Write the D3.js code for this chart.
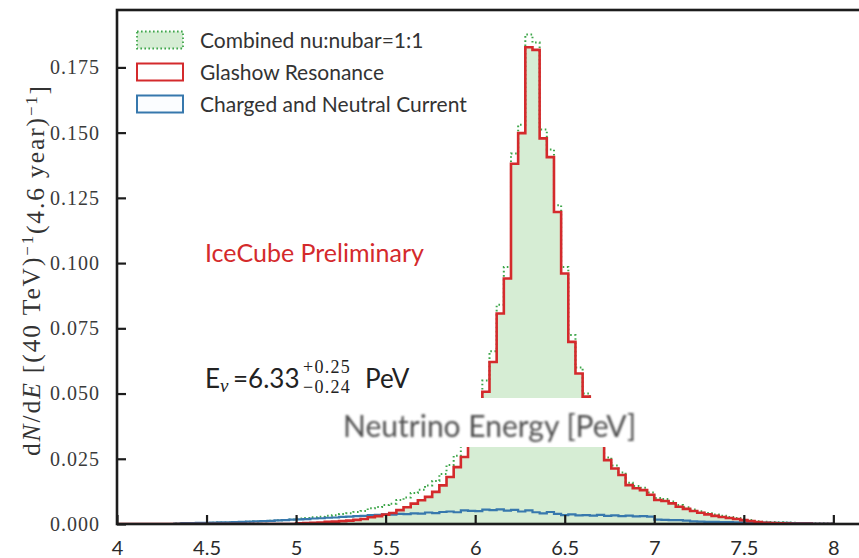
<!DOCTYPE html>
<html>
<head>
<meta charset="utf-8">
<script src="https://cdn.jsdelivr.net/npm/d3@7"></script>
<style>
  body { margin: 0; background: #fff; }
  svg { display: block; }
</style>
</head>
<body>
<svg id="chart" width="859" height="558"></svg>
<script>
// Histogram binning: 100 bins of 40 TeV from 4 PeV to 8 PeV
const binStart = 4.0;
const binWidth = 0.04;

// Glashow resonance events per bin
const glashow = [
  0, 0, 0, 0, 0, 0, 0, 0, 0, 0,
  0, 0, 0, 0, 0, 0, 0, 0, 0, 0,
  0, 0, 0, 0, 0, 0.0003, 0.0004, 0.0005, 0.0006, 0.0008,
  0.0009, 0.0011, 0.0013, 0.0016, 0.0019, 0.0026, 0.0030, 0.0036, 0.0042, 0.0053,
  0.0064, 0.0078, 0.0091, 0.0104, 0.0123, 0.0148, 0.0180, 0.0218, 0.0257, 0.0320,
  0.0410, 0.0507, 0.0621, 0.0807, 0.0941, 0.1381, 0.1498, 0.1827, 0.1817, 0.1478,
  0.1406, 0.1196, 0.0960, 0.0698, 0.0577, 0.0488, 0.0400, 0.0320, 0.0245, 0.0213,
  0.0188, 0.0149, 0.0137, 0.0130, 0.0112, 0.0092, 0.0088, 0.0079, 0.0066, 0.0058,
  0.0050, 0.0043, 0.0037, 0.0031, 0.0027, 0.0023, 0.0019, 0.0015, 0.0011, 0.0007,
  0.0005, 0.0004, 0.0003, 0.0002, 0.0001, 0.0001, 0.0001, 0, 0, 0
];

// Charged and neutral current events per bin
const chargedNeutral = [
  0, 0, 0, 0, 0, 0, 0, 0, 0.0002, 0.0003,
  0.0003, 0.0004, 0.0004, 0.0005, 0.0006, 0.0006, 0.0007, 0.0008, 0.0009, 0.0010,
  0.0011, 0.0012, 0.0014, 0.0015, 0.0017, 0.0018, 0.0019, 0.0021, 0.0022, 0.0024,
  0.0025, 0.0027, 0.0028, 0.0030, 0.0031, 0.0034, 0.0035, 0.0037, 0.0036, 0.0039,
  0.0038, 0.0041, 0.0040, 0.0044, 0.0042, 0.0046, 0.0048, 0.0045, 0.0052, 0.0050,
  0.0049, 0.0055, 0.0053, 0.0056, 0.0051, 0.0054, 0.0048, 0.0052, 0.0045, 0.0041,
  0.0046, 0.0039, 0.0034, 0.0037, 0.0033, 0.0034, 0.0032, 0.0035, 0.0031, 0.0033,
  0.0030, 0.0032, 0.0029, 0.0030, 0.0028, 0.0017, 0.0016, 0.0015, 0.0015, 0.0013,
  0.0010, 0.0009, 0.0008, 0.0008, 0.0007, 0.0007, 0.0006, 0.0006, 0.0005, 0.0005,
  0.0005, 0.0004, 0.0004, 0.0004, 0.0003, 0.0003, 0.0003, 0.0002, 0.0002, 0.0002
];

// Combined nu:nubar = 1:1 events per bin
const combined = [
  0, 0, 0, 0, 0, 0, 0, 0, 0.0002, 0.0003,
  0.0003, 0.0004, 0.0004, 0.0005, 0.0006, 0.0006, 0.0007, 0.0008, 0.0009, 0.0010,
  0.0011, 0.0012, 0.0014, 0.0015, 0.0017, 0.0021, 0.0023, 0.0026, 0.0028, 0.0032,
  0.0034, 0.0038, 0.0041, 0.0046, 0.0050, 0.0060, 0.0065, 0.0073, 0.0078, 0.0092,
  0.0102, 0.0119, 0.0131, 0.0148, 0.0165, 0.0192, 0.0226, 0.0262, 0.0305, 0.0365,
  0.0455, 0.0550, 0.0662, 0.0840, 0.0985, 0.1420, 0.1530, 0.1876, 0.1845, 0.1512,
  0.1435, 0.1222, 0.0985, 0.0724, 0.0600, 0.0500, 0.0412, 0.0330, 0.0255, 0.0224,
  0.0197, 0.0158, 0.0146, 0.0139, 0.0121, 0.0100, 0.0096, 0.0086, 0.0073, 0.0064,
  0.0056, 0.0049, 0.0042, 0.0036, 0.0032, 0.0027, 0.0023, 0.0019, 0.0015, 0.0011,
  0.0009, 0.0008, 0.0007, 0.0006, 0.0005, 0.0004, 0.0004, 0.0003, 0.0003, 0.0002
];

const xTicks = [4, 4.5, 5, 5.5, 6, 6.5, 7, 7.5, 8];
const xTickLabels = ["4", "4.5", "5", "5.5", "6", "6.5", "7", "7.5", "8"];
const yTicks = [0, 0.025, 0.05, 0.075, 0.1, 0.125, 0.15, 0.175];
const yTickLabels = ["0.000", "0.025", "0.050", "0.075", "0.100", "0.125", "0.150", "0.175"];
const legendLabels = ["Combined nu:nubar=1:1", "Glashow Resonance", "Charged and Neutral Current"];

const colors = {
  red: "#d42a2c",
  blue: "#3778ad",
  green: "#3ea64a",
  fill: "#d6edd4",
  axis: "#1c1c1c",
  text: "#333"
};
const sans = "Lato, 'Open Sans', sans-serif";
const serif = "'Liberation Serif', 'DejaVu Serif', serif";

const svg = d3.select("#chart");
const plot = { left: 117, right: 862, top: 10, bottom: 524 };

const x = d3.scaleLinear().domain([4, 8.16]).range([plot.left, plot.right]);
const y = d3.scaleLinear().domain([0, 0.197]).range([plot.bottom, plot.top]);

// Turn bin contents into an outline that starts and ends on the baseline
function stepPoints(vals) {
  const pts = [[binStart, 0]];
  vals.forEach((v, i) => {
    const e0 = binStart + i * binWidth;
    pts.push([e0, v], [e0 + binWidth, v]);
  });
  pts.push([binStart + vals.length * binWidth, 0]);
  return pts;
}
const line = d3.line().x(d => x(d[0])).y(d => y(d[1]));
const area = d3.area().x(d => x(d[0])).y0(y(0)).y1(d => y(d[1]));

const defs = svg.append("defs");
defs.append("clipPath").attr("id", "plotClip")
  .append("rect").attr("x", plot.left).attr("y", plot.top)
  .attr("width", plot.right - plot.left).attr("height", plot.bottom - plot.top);
defs.append("filter").attr("id", "soft")
  .attr("x", "-5%").attr("y", "-20%").attr("width", "110%").attr("height", "140%")
  .append("feGaussianBlur").attr("stdDeviation", 0.9);

const g = svg.append("g").attr("clip-path", "url(#plotClip)");

// Shaded area under the Glashow spectrum
g.append("path").datum(stepPoints(glashow))
  .attr("d", area).attr("fill", colors.fill).attr("stroke", "none");

// Combined spectrum outline (dotted)
g.append("path").datum(stepPoints(combined))
  .attr("d", line).attr("fill", "none")
  .attr("stroke", colors.green).attr("stroke-width", 2)
  .attr("stroke-dasharray", "1.6 2.6");

// Charged + neutral current
g.append("path").datum(stepPoints(chargedNeutral))
  .attr("d", line).attr("fill", "none")
  .attr("stroke", colors.blue).attr("stroke-width", 2.2);

// Glashow resonance
g.append("path").datum(stepPoints(glashow))
  .attr("d", line).attr("fill", "none")
  .attr("stroke", colors.red).attr("stroke-width", 2.6);

// Legend
const legend = svg.append("g");
const legendRows = [
  { fill: colors.fill, stroke: colors.green, dash: "1.6 2.4" },
  { fill: "#fff", stroke: colors.red, dash: null },
  { fill: "#fbfdff", stroke: colors.blue, dash: null }
];
legendLabels.forEach((label, i) => {
  const cy = 40 + i * 32;
  legend.append("rect")
    .attr("x", 137).attr("y", cy - 8.5).attr("width", 46).attr("height", 17)
    .attr("fill", legendRows[i].fill).attr("stroke", legendRows[i].stroke)
    .attr("stroke-width", legendRows[i].dash ? 1.8 : 2)
    .attr("stroke-dasharray", legendRows[i].dash);
  legend.append("text")
    .attr("x", 200).attr("y", cy).attr("dy", "0.36em")
    .attr("font-family", sans).attr("font-size", 21)
    .attr("fill", colors.text).text(label);
});

// Annotation
svg.append("text")
  .attr("x", 205).attr("y", 262)
  .attr("font-family", sans).attr("font-size", 25)
  .attr("fill", colors.red).text("IceCube Preliminary");

// Best-fit energy with asymmetric errors, set as one text run
const ev = svg.append("text").attr("fill", "#222")
  .attr("font-family", sans).attr("font-size", 26);
ev.append("tspan").attr("x", 205).attr("y", 388).text("E");
ev.append("tspan").attr("x", 220).attr("y", 392)
  .attr("font-family", serif).attr("font-style", "italic").attr("font-size", 19).text("ν");
ev.append("tspan").attr("x", 233).attr("y", 388).text("=6.33");
ev.append("tspan").attr("x", 303).attr("y", 373)
  .attr("font-family", serif).attr("font-size", 18).attr("letter-spacing", 1.3).text("+0.25");
ev.append("tspan").attr("x", 303).attr("y", 393)
  .attr("font-family", serif).attr("font-size", 18).attr("letter-spacing", 1.3).text("−0.24");
ev.append("tspan").attr("x", 365).attr("y", 388).text("PeV");

// Axis title on its white panel
svg.append("rect")
  .attr("x", 336).attr("y", 398).attr("width", 304).attr("height", 49)
  .attr("fill", "#fff");
svg.append("text")
  .attr("x", 343).attr("y", 437)
  .attr("font-family", sans).attr("font-size", 30)
  .attr("fill", "#505050").attr("filter", "url(#soft)")
  .text("Neutrino Energy [PeV]");

// Axes
const yAxis = d3.axisLeft(y).tickValues(yTicks)
  .tickFormat((d, i) => yTickLabels[i])
  .tickSizeInner(-9).tickSizeOuter(0).tickPadding(17);
const yg = svg.append("g").attr("transform", `translate(${plot.left},0)`).call(yAxis);
yg.select(".domain").remove();
yg.selectAll(".tick line").attr("stroke", colors.axis).attr("stroke-width", 2.2);
yg.selectAll(".tick text").attr("font-family", serif).attr("font-size", 20)
  .attr("letter-spacing", 1).attr("fill", "#3a3a3a");

const xAxis = d3.axisBottom(x).tickValues(xTicks)
  .tickFormat((d, i) => xTickLabels[i])
  .tickSizeInner(-9).tickSizeOuter(0).tickPadding(17);
const xg = svg.append("g").attr("transform", `translate(0,${plot.bottom})`).call(xAxis);
xg.select(".domain").remove();
xg.selectAll(".tick line").attr("stroke", colors.axis).attr("stroke-width", 2.2);
xg.selectAll(".tick text").attr("font-family", sans).attr("font-size", 20)
  .attr("fill", "#2a2a2a");

// Frame
svg.append("rect")
  .attr("x", plot.left).attr("y", plot.top)
  .attr("width", plot.right - plot.left).attr("height", plot.bottom - plot.top)
  .attr("fill", "none").attr("stroke", colors.axis).attr("stroke-width", 2.6);

// Y axis title
const yTitle = svg.append("text")
  .attr("transform", "translate(40,270) rotate(-90)")
  .attr("text-anchor", "middle")
  .attr("font-family", serif).attr("font-size", 25.5).attr("fill", "#333");
yTitle.append("tspan").text("d");
yTitle.append("tspan").attr("font-style", "italic").text("N");
yTitle.append("tspan").text("/d");
yTitle.append("tspan").attr("font-style", "italic").text("E");
yTitle.append("tspan").text(" [(40 TeV)");
yTitle.append("tspan").attr("font-size", "0.66em").attr("dy", "-0.42em").text("−1");
yTitle.append("tspan").attr("dy", "0.42em").text("(4.6 year)");
yTitle.append("tspan").attr("font-size", "0.66em").attr("dy", "-0.42em").text("−1");
yTitle.append("tspan").attr("dy", "0.42em").text("]");
// Spread the letters slightly so the title runs the length of the axis
const nChars = yTitle.text().length;
const titleLen = yTitle.node().getBBox().width;
yTitle.attr("letter-spacing", Math.max(0, (372 - titleLen) / nChars));
</script>
</body>
</html>
